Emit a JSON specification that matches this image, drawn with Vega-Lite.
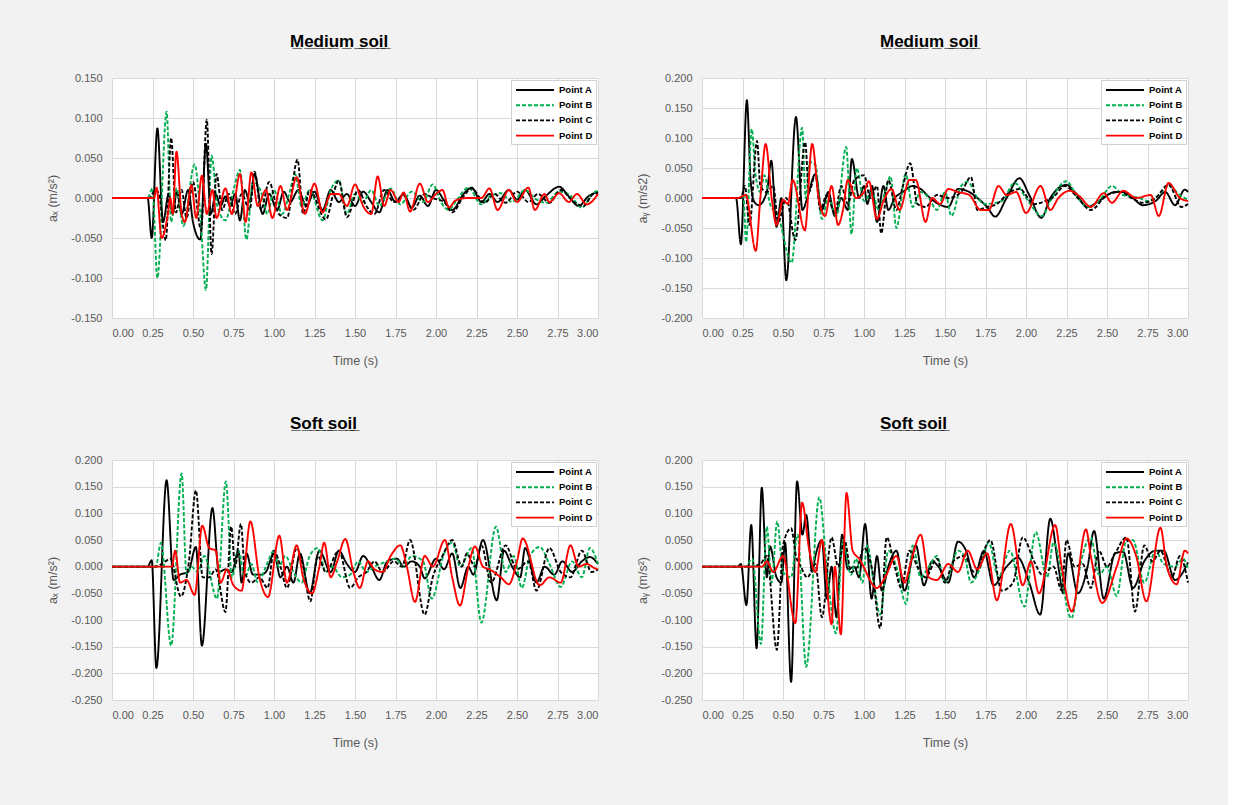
{
"$schema":"https://vega.github.io/schema/vega-lite/v6.json",
"background":"#f2f2f2",
"padding":{"left":46,"top":33,"right":36,"bottom":60},
"config":{
 "font":"Liberation Sans",
 "view":{"stroke":null,"fill":"white"},
 "axis":{"domain":false,"ticks":false,"gridColor":"#d9d9d9","gridWidth":1,"labelColor":"#595959","labelFontSize":11,"titleColor":"#595959","titleFontSize":12.5,"titleFontWeight":"normal"},
 "axisX":{"labelPadding":9,"titlePadding":16},
 "axisY":{"labelPadding":10,"titlePadding":11},
 "title":{"fontSize":17,"fontWeight":"bold","color":"#000000","anchor":"start","frame":"group","dx":178,"offset":21},
 "legend":{"orient":"top-right","offset":2,"title":null,"fillColor":"white","strokeColor":"#d0d0d0","padding":3,"symbolType":"M-0.5,0H5.8333","symbolSize":144,"symbolStrokeWidth":2,"symbolOffset":-2,"labelOffset":33,"labelFontSize":9.5,"labelFontWeight":"bold","labelColor":"#000000","rowPadding":3.2},
 "line":{"interpolate":"monotone","strokeWidth":1.9}
},
"datasets":{
"p1":[
{"s":"Point A","t":0,"v":0},{"s":"Point A","t":0.22,"v":0},{"s":"Point A","t":0.245,"v":-0.05},{"s":"Point A","t":0.28,"v":0.087},{"s":"Point A","t":0.315,"v":-0.03},{"s":"Point A","t":0.35,"v":0.005},{"s":"Point A","t":0.375,"v":-0.02},{"s":"Point A","t":0.4,"v":0.008},{"s":"Point A","t":0.43,"v":-0.02},{"s":"Point A","t":0.47,"v":0.01},{"s":"Point A","t":0.5,"v":-0.03},{"s":"Point A","t":0.545,"v":-0.052},{"s":"Point A","t":0.58,"v":0.068},{"s":"Point A","t":0.61,"v":-0.02},{"s":"Point A","t":0.64,"v":0.005},{"s":"Point A","t":0.67,"v":-0.01},{"s":"Point A","t":0.7,"v":0.002},{"s":"Point A","t":0.73,"v":-0.01},{"s":"Point A","t":0.76,"v":0.005},{"s":"Point A","t":0.79,"v":-0.028},{"s":"Point A","t":0.82,"v":0.01},{"s":"Point A","t":0.85,"v":-0.005},{"s":"Point A","t":0.88,"v":0.03},{"s":"Point A","t":0.93,"v":-0.02},{"s":"Point A","t":0.97,"v":0.005},{"s":"Point A","t":1.02,"v":-0.015},{"s":"Point A","t":1.06,"v":0.008},{"s":"Point A","t":1.1,"v":-0.005},{"s":"Point A","t":1.15,"v":0.01},{"s":"Point A","t":1.2,"v":-0.01},{"s":"Point A","t":1.25,"v":0.008},{"s":"Point A","t":1.3,"v":-0.015},{"s":"Point A","t":1.35,"v":0.01},{"s":"Point A","t":1.4,"v":-0.005},{"s":"Point A","t":1.45,"v":0.005},{"s":"Point A","t":1.5,"v":-0.01},{"s":"Point A","t":1.55,"v":0.008},{"s":"Point A","t":1.6,"v":-0.005},{"s":"Point A","t":1.65,"v":-0.018},{"s":"Point A","t":1.7,"v":0.01},{"s":"Point A","t":1.75,"v":-0.005},{"s":"Point A","t":1.8,"v":0.005},{"s":"Point A","t":1.85,"v":-0.012},{"s":"Point A","t":1.9,"v":0.003},{"s":"Point A","t":1.95,"v":-0.01},{"s":"Point A","t":2.0,"v":0.01},{"s":"Point A","t":2.05,"v":-0.003},{"s":"Point A","t":2.1,"v":-0.015},{"s":"Point A","t":2.17,"v":0.005},{"s":"Point A","t":2.22,"v":0.013},{"s":"Point A","t":2.28,"v":-0.005},{"s":"Point A","t":2.33,"v":0.005},{"s":"Point A","t":2.38,"v":-0.005},{"s":"Point A","t":2.45,"v":0.01},{"s":"Point A","t":2.5,"v":-0.002},{"s":"Point A","t":2.55,"v":0.01},{"s":"Point A","t":2.62,"v":-0.008},{"s":"Point A","t":2.68,"v":0.003},{"s":"Point A","t":2.76,"v":0.014},{"s":"Point A","t":2.82,"v":0.002},{"s":"Point A","t":2.88,"v":-0.01},{"s":"Point A","t":2.94,"v":0.002},{"s":"Point A","t":3.0,"v":0.008},
{"s":"Point B","t":0,"v":0},{"s":"Point B","t":0.22,"v":0},{"s":"Point B","t":0.25,"v":0.012},{"s":"Point B","t":0.28,"v":-0.1},{"s":"Point B","t":0.337,"v":0.108},{"s":"Point B","t":0.365,"v":-0.03},{"s":"Point B","t":0.4,"v":0.012},{"s":"Point B","t":0.44,"v":-0.035},{"s":"Point B","t":0.51,"v":0.042},{"s":"Point B","t":0.545,"v":-0.02},{"s":"Point B","t":0.58,"v":-0.115},{"s":"Point B","t":0.615,"v":0.053},{"s":"Point B","t":0.65,"v":-0.01},{"s":"Point B","t":0.7,"v":-0.028},{"s":"Point B","t":0.75,"v":0.01},{"s":"Point B","t":0.79,"v":0.035},{"s":"Point B","t":0.83,"v":-0.052},{"s":"Point B","t":0.87,"v":0.02},{"s":"Point B","t":0.92,"v":0.008},{"s":"Point B","t":0.96,"v":-0.02},{"s":"Point B","t":1.0,"v":0.01},{"s":"Point B","t":1.05,"v":-0.02},{"s":"Point B","t":1.1,"v":0.01},{"s":"Point B","t":1.13,"v":0.03},{"s":"Point B","t":1.17,"v":-0.01},{"s":"Point B","t":1.22,"v":0.01},{"s":"Point B","t":1.3,"v":-0.028},{"s":"Point B","t":1.35,"v":0.01},{"s":"Point B","t":1.4,"v":0.022},{"s":"Point B","t":1.45,"v":-0.02},{"s":"Point B","t":1.5,"v":0.005},{"s":"Point B","t":1.55,"v":-0.005},{"s":"Point B","t":1.6,"v":0.01},{"s":"Point B","t":1.65,"v":-0.01},{"s":"Point B","t":1.72,"v":0.012},{"s":"Point B","t":1.78,"v":-0.008},{"s":"Point B","t":1.85,"v":0.008},{"s":"Point B","t":1.92,"v":-0.005},{"s":"Point B","t":1.98,"v":0.017},{"s":"Point B","t":2.03,"v":-0.005},{"s":"Point B","t":2.08,"v":-0.015},{"s":"Point B","t":2.12,"v":-0.005},{"s":"Point B","t":2.2,"v":0.013},{"s":"Point B","t":2.28,"v":-0.008},{"s":"Point B","t":2.34,"v":0.003},{"s":"Point B","t":2.4,"v":0.006},{"s":"Point B","t":2.47,"v":-0.005},{"s":"Point B","t":2.55,"v":0.01},{"s":"Point B","t":2.62,"v":-0.002},{"s":"Point B","t":2.68,"v":-0.006},{"s":"Point B","t":2.76,"v":0.008},{"s":"Point B","t":2.83,"v":0.003},{"s":"Point B","t":2.9,"v":-0.012},{"s":"Point B","t":2.96,"v":0.004},{"s":"Point B","t":3.0,"v":0.01},
{"s":"Point C","t":0,"v":0},{"s":"Point C","t":0.23,"v":0},{"s":"Point C","t":0.27,"v":0.01},{"s":"Point C","t":0.29,"v":0.005},{"s":"Point C","t":0.332,"v":-0.053},{"s":"Point C","t":0.365,"v":0.075},{"s":"Point C","t":0.395,"v":-0.018},{"s":"Point C","t":0.43,"v":0.01},{"s":"Point C","t":0.46,"v":-0.025},{"s":"Point C","t":0.5,"v":0.02},{"s":"Point C","t":0.55,"v":-0.04},{"s":"Point C","t":0.585,"v":0.098},{"s":"Point C","t":0.615,"v":-0.07},{"s":"Point C","t":0.645,"v":0.03},{"s":"Point C","t":0.68,"v":-0.015},{"s":"Point C","t":0.72,"v":0.005},{"s":"Point C","t":0.76,"v":-0.02},{"s":"Point C","t":0.8,"v":0.005},{"s":"Point C","t":0.85,"v":-0.015},{"s":"Point C","t":0.88,"v":0.033},{"s":"Point C","t":0.92,"v":-0.015},{"s":"Point C","t":0.97,"v":0.02},{"s":"Point C","t":1.03,"v":-0.02},{"s":"Point C","t":1.08,"v":-0.025},{"s":"Point C","t":1.145,"v":0.048},{"s":"Point C","t":1.18,"v":-0.02},{"s":"Point C","t":1.22,"v":0.01},{"s":"Point C","t":1.32,"v":-0.027},{"s":"Point C","t":1.37,"v":0.008},{"s":"Point C","t":1.4,"v":0.022},{"s":"Point C","t":1.45,"v":-0.024},{"s":"Point C","t":1.52,"v":0.01},{"s":"Point C","t":1.57,"v":-0.01},{"s":"Point C","t":1.62,"v":-0.02},{"s":"Point C","t":1.68,"v":0.01},{"s":"Point C","t":1.74,"v":-0.005},{"s":"Point C","t":1.8,"v":0.003},{"s":"Point C","t":1.86,"v":-0.015},{"s":"Point C","t":1.93,"v":0.005},{"s":"Point C","t":1.98,"v":0.0},{"s":"Point C","t":2.05,"v":-0.005},{"s":"Point C","t":2.1,"v":-0.018},{"s":"Point C","t":2.17,"v":0.002},{"s":"Point C","t":2.22,"v":0.012},{"s":"Point C","t":2.3,"v":-0.006},{"s":"Point C","t":2.36,"v":0.005},{"s":"Point C","t":2.43,"v":-0.006},{"s":"Point C","t":2.5,"v":0.008},{"s":"Point C","t":2.57,"v":-0.005},{"s":"Point C","t":2.63,"v":0.005},{"s":"Point C","t":2.7,"v":-0.006},{"s":"Point C","t":2.77,"v":0.01},{"s":"Point C","t":2.85,"v":-0.005},{"s":"Point C","t":2.91,"v":-0.01},{"s":"Point C","t":2.97,"v":0.005},{"s":"Point C","t":3.0,"v":0.006},
{"s":"Point D","t":0,"v":0},{"s":"Point D","t":0.26,"v":0},{"s":"Point D","t":0.275,"v":0.013},{"s":"Point D","t":0.306,"v":-0.05},{"s":"Point D","t":0.345,"v":-0.02},{"s":"Point D","t":0.36,"v":0.0},{"s":"Point D","t":0.375,"v":-0.02},{"s":"Point D","t":0.398,"v":0.058},{"s":"Point D","t":0.43,"v":-0.02},{"s":"Point D","t":0.45,"v":-0.03},{"s":"Point D","t":0.49,"v":0.016},{"s":"Point D","t":0.52,"v":-0.025},{"s":"Point D","t":0.555,"v":0.028},{"s":"Point D","t":0.585,"v":-0.02},{"s":"Point D","t":0.62,"v":0.01},{"s":"Point D","t":0.645,"v":-0.025},{"s":"Point D","t":0.7,"v":0.012},{"s":"Point D","t":0.74,"v":-0.02},{"s":"Point D","t":0.79,"v":0.03},{"s":"Point D","t":0.825,"v":-0.03},{"s":"Point D","t":0.86,"v":0.032},{"s":"Point D","t":0.9,"v":-0.01},{"s":"Point D","t":0.95,"v":0.01},{"s":"Point D","t":0.99,"v":-0.025},{"s":"Point D","t":1.04,"v":0.015},{"s":"Point D","t":1.08,"v":-0.015},{"s":"Point D","t":1.14,"v":0.026},{"s":"Point D","t":1.19,"v":-0.02},{"s":"Point D","t":1.25,"v":0.018},{"s":"Point D","t":1.3,"v":-0.018},{"s":"Point D","t":1.35,"v":0.005},{"s":"Point D","t":1.4,"v":0.005},{"s":"Point D","t":1.45,"v":-0.01},{"s":"Point D","t":1.5,"v":0.017},{"s":"Point D","t":1.55,"v":-0.01},{"s":"Point D","t":1.6,"v":-0.02},{"s":"Point D","t":1.64,"v":0.027},{"s":"Point D","t":1.68,"v":-0.01},{"s":"Point D","t":1.72,"v":0.01},{"s":"Point D","t":1.77,"v":-0.005},{"s":"Point D","t":1.8,"v":0.007},{"s":"Point D","t":1.84,"v":-0.017},{"s":"Point D","t":1.9,"v":0.018},{"s":"Point D","t":1.95,"v":-0.005},{"s":"Point D","t":2.0,"v":0.005},{"s":"Point D","t":2.04,"v":0.01},{"s":"Point D","t":2.08,"v":-0.012},{"s":"Point D","t":2.12,"v":-0.003},{"s":"Point D","t":2.2,"v":0.0},{"s":"Point D","t":2.28,"v":0.0},{"s":"Point D","t":2.33,"v":0.012},{"s":"Point D","t":2.38,"v":-0.015},{"s":"Point D","t":2.45,"v":0.01},{"s":"Point D","t":2.5,"v":-0.005},{"s":"Point D","t":2.57,"v":0.013},{"s":"Point D","t":2.61,"v":-0.015},{"s":"Point D","t":2.67,"v":0.005},{"s":"Point D","t":2.7,"v":-0.005},{"s":"Point D","t":2.76,"v":0.006},{"s":"Point D","t":2.82,"v":-0.005},{"s":"Point D","t":2.87,"v":0.005},{"s":"Point D","t":2.93,"v":-0.008},{"s":"Point D","t":3.0,"v":0.005}
],
"p2":[
{"s":"Point A","t":0,"v":0},{"s":"Point A","t":0.21,"v":0},{"s":"Point A","t":0.24,"v":-0.077},{"s":"Point A","t":0.277,"v":0.163},{"s":"Point A","t":0.3,"v":0.03},{"s":"Point A","t":0.32,"v":-0.005},{"s":"Point A","t":0.35,"v":-0.012},{"s":"Point A","t":0.4,"v":0.01},{"s":"Point A","t":0.428,"v":0.062},{"s":"Point A","t":0.46,"v":-0.048},{"s":"Point A","t":0.49,"v":0.0},{"s":"Point A","t":0.52,"v":-0.137},{"s":"Point A","t":0.58,"v":0.135},{"s":"Point A","t":0.62,"v":-0.02},{"s":"Point A","t":0.65,"v":0.0},{"s":"Point A","t":0.7,"v":0.04},{"s":"Point A","t":0.74,"v":-0.02},{"s":"Point A","t":0.78,"v":0.01},{"s":"Point A","t":0.82,"v":-0.03},{"s":"Point A","t":0.86,"v":0.0},{"s":"Point A","t":0.9,"v":-0.02},{"s":"Point A","t":0.925,"v":0.065},{"s":"Point A","t":0.97,"v":0.0},{"s":"Point A","t":1.0,"v":0.02},{"s":"Point A","t":1.02,"v":-0.01},{"s":"Point A","t":1.05,"v":0.02},{"s":"Point A","t":1.08,"v":-0.04},{"s":"Point A","t":1.12,"v":0.02},{"s":"Point A","t":1.15,"v":-0.02},{"s":"Point A","t":1.19,"v":0.0},{"s":"Point A","t":1.24,"v":0.01},{"s":"Point A","t":1.3,"v":0.02},{"s":"Point A","t":1.35,"v":0.015},{"s":"Point A","t":1.4,"v":0.002},{"s":"Point A","t":1.46,"v":-0.01},{"s":"Point A","t":1.52,"v":-0.015},{"s":"Point A","t":1.58,"v":0.015},{"s":"Point A","t":1.65,"v":0.01},{"s":"Point A","t":1.7,"v":0.0},{"s":"Point A","t":1.76,"v":-0.015},{"s":"Point A","t":1.81,"v":-0.031},{"s":"Point A","t":1.88,"v":0.0},{"s":"Point A","t":1.96,"v":0.033},{"s":"Point A","t":2.02,"v":0.005},{"s":"Point A","t":2.095,"v":-0.033},{"s":"Point A","t":2.15,"v":0.0},{"s":"Point A","t":2.25,"v":0.022},{"s":"Point A","t":2.3,"v":0.01},{"s":"Point A","t":2.38,"v":-0.015},{"s":"Point A","t":2.45,"v":-0.005},{"s":"Point A","t":2.55,"v":0.01},{"s":"Point A","t":2.6,"v":0.01},{"s":"Point A","t":2.66,"v":0.0},{"s":"Point A","t":2.72,"v":-0.012},{"s":"Point A","t":2.8,"v":-0.005},{"s":"Point A","t":2.86,"v":0.01},{"s":"Point A","t":2.92,"v":-0.012},{"s":"Point A","t":2.98,"v":0.014},{"s":"Point A","t":3.0,"v":0.01},
{"s":"Point B","t":0,"v":0},{"s":"Point B","t":0.23,"v":0},{"s":"Point B","t":0.255,"v":0.005},{"s":"Point B","t":0.272,"v":-0.073},{"s":"Point B","t":0.307,"v":0.115},{"s":"Point B","t":0.33,"v":0.04},{"s":"Point B","t":0.36,"v":0.01},{"s":"Point B","t":0.385,"v":0.038},{"s":"Point B","t":0.42,"v":-0.01},{"s":"Point B","t":0.47,"v":-0.03},{"s":"Point B","t":0.553,"v":-0.108},{"s":"Point B","t":0.618,"v":0.117},{"s":"Point B","t":0.64,"v":0.0},{"s":"Point B","t":0.665,"v":0.06},{"s":"Point B","t":0.7,"v":0.055},{"s":"Point B","t":0.74,"v":-0.035},{"s":"Point B","t":0.78,"v":0.0},{"s":"Point B","t":0.83,"v":-0.03},{"s":"Point B","t":0.89,"v":0.085},{"s":"Point B","t":0.923,"v":-0.06},{"s":"Point B","t":0.955,"v":0.05},{"s":"Point B","t":1.0,"v":-0.005},{"s":"Point B","t":1.05,"v":0.01},{"s":"Point B","t":1.09,"v":-0.02},{"s":"Point B","t":1.13,"v":0.01},{"s":"Point B","t":1.164,"v":0.036},{"s":"Point B","t":1.2,"v":-0.05},{"s":"Point B","t":1.257,"v":0.04},{"s":"Point B","t":1.3,"v":-0.015},{"s":"Point B","t":1.35,"v":0.01},{"s":"Point B","t":1.4,"v":0.0},{"s":"Point B","t":1.45,"v":-0.02},{"s":"Point B","t":1.5,"v":0.01},{"s":"Point B","t":1.54,"v":-0.03},{"s":"Point B","t":1.6,"v":0.02},{"s":"Point B","t":1.64,"v":0.027},{"s":"Point B","t":1.7,"v":0.0},{"s":"Point B","t":1.75,"v":-0.01},{"s":"Point B","t":1.85,"v":-0.005},{"s":"Point B","t":1.93,"v":0.025},{"s":"Point B","t":2.0,"v":0.0},{"s":"Point B","t":2.1,"v":-0.03},{"s":"Point B","t":2.15,"v":-0.005},{"s":"Point B","t":2.25,"v":0.028},{"s":"Point B","t":2.32,"v":0.0},{"s":"Point B","t":2.38,"v":-0.015},{"s":"Point B","t":2.45,"v":-0.005},{"s":"Point B","t":2.53,"v":0.02},{"s":"Point B","t":2.6,"v":0.005},{"s":"Point B","t":2.7,"v":0.0},{"s":"Point B","t":2.75,"v":-0.005},{"s":"Point B","t":2.82,"v":0.005},{"s":"Point B","t":2.88,"v":0.02},{"s":"Point B","t":2.95,"v":0.005},{"s":"Point B","t":3.0,"v":-0.003},
{"s":"Point C","t":0,"v":0},{"s":"Point C","t":0.24,"v":0},{"s":"Point C","t":0.265,"v":0.02},{"s":"Point C","t":0.293,"v":-0.045},{"s":"Point C","t":0.34,"v":0.095},{"s":"Point C","t":0.36,"v":0.02},{"s":"Point C","t":0.4,"v":0.01},{"s":"Point C","t":0.44,"v":0.02},{"s":"Point C","t":0.47,"v":-0.04},{"s":"Point C","t":0.52,"v":0.0},{"s":"Point C","t":0.576,"v":-0.07},{"s":"Point C","t":0.637,"v":0.093},{"s":"Point C","t":0.66,"v":0.01},{"s":"Point C","t":0.7,"v":0.04},{"s":"Point C","t":0.73,"v":-0.02},{"s":"Point C","t":0.77,"v":0.005},{"s":"Point C","t":0.82,"v":-0.025},{"s":"Point C","t":0.86,"v":0.02},{"s":"Point C","t":0.9,"v":-0.01},{"s":"Point C","t":0.94,"v":0.03},{"s":"Point C","t":1.0,"v":0.038},{"s":"Point C","t":1.04,"v":0.0},{"s":"Point C","t":1.08,"v":0.02},{"s":"Point C","t":1.106,"v":-0.059},{"s":"Point C","t":1.15,"v":0.03},{"s":"Point C","t":1.2,"v":-0.02},{"s":"Point C","t":1.24,"v":0.02},{"s":"Point C","t":1.285,"v":0.058},{"s":"Point C","t":1.33,"v":-0.01},{"s":"Point C","t":1.38,"v":-0.015},{"s":"Point C","t":1.45,"v":0.005},{"s":"Point C","t":1.52,"v":0.0},{"s":"Point C","t":1.6,"v":0.01},{"s":"Point C","t":1.66,"v":0.035},{"s":"Point C","t":1.7,"v":-0.02},{"s":"Point C","t":1.76,"v":-0.015},{"s":"Point C","t":1.82,"v":-0.01},{"s":"Point C","t":1.9,"v":0.01},{"s":"Point C","t":1.96,"v":0.015},{"s":"Point C","t":2.05,"v":-0.01},{"s":"Point C","t":2.12,"v":-0.005},{"s":"Point C","t":2.17,"v":0.002},{"s":"Point C","t":2.24,"v":0.02},{"s":"Point C","t":2.32,"v":0.0},{"s":"Point C","t":2.4,"v":-0.02},{"s":"Point C","t":2.5,"v":0.005},{"s":"Point C","t":2.58,"v":0.01},{"s":"Point C","t":2.65,"v":0.0},{"s":"Point C","t":2.72,"v":-0.008},{"s":"Point C","t":2.8,"v":0.0},{"s":"Point C","t":2.88,"v":0.022},{"s":"Point C","t":2.96,"v":-0.015},{"s":"Point C","t":3.0,"v":-0.01},
{"s":"Point D","t":0,"v":0},{"s":"Point D","t":0.22,"v":0},{"s":"Point D","t":0.27,"v":0.005},{"s":"Point D","t":0.332,"v":-0.088},{"s":"Point D","t":0.36,"v":0.0},{"s":"Point D","t":0.393,"v":0.09},{"s":"Point D","t":0.43,"v":0.0},{"s":"Point D","t":0.46,"v":-0.045},{"s":"Point D","t":0.5,"v":-0.003},{"s":"Point D","t":0.53,"v":-0.01},{"s":"Point D","t":0.56,"v":0.03},{"s":"Point D","t":0.635,"v":-0.054},{"s":"Point D","t":0.68,"v":0.09},{"s":"Point D","t":0.72,"v":0.0},{"s":"Point D","t":0.76,"v":-0.03},{"s":"Point D","t":0.8,"v":0.02},{"s":"Point D","t":0.84,"v":-0.045},{"s":"Point D","t":0.87,"v":-0.02},{"s":"Point D","t":0.9,"v":0.03},{"s":"Point D","t":0.95,"v":0.0},{"s":"Point D","t":1.0,"v":0.01},{"s":"Point D","t":1.03,"v":0.028},{"s":"Point D","t":1.08,"v":-0.035},{"s":"Point D","t":1.12,"v":-0.005},{"s":"Point D","t":1.17,"v":0.015},{"s":"Point D","t":1.22,"v":-0.02},{"s":"Point D","t":1.28,"v":0.03},{"s":"Point D","t":1.32,"v":0.03},{"s":"Point D","t":1.38,"v":-0.04},{"s":"Point D","t":1.42,"v":0.0},{"s":"Point D","t":1.47,"v":-0.01},{"s":"Point D","t":1.52,"v":0.015},{"s":"Point D","t":1.58,"v":0.01},{"s":"Point D","t":1.65,"v":0.005},{"s":"Point D","t":1.72,"v":-0.02},{"s":"Point D","t":1.77,"v":-0.02},{"s":"Point D","t":1.83,"v":0.02},{"s":"Point D","t":1.88,"v":0.005},{"s":"Point D","t":1.94,"v":0.01},{"s":"Point D","t":2.0,"v":-0.025},{"s":"Point D","t":2.09,"v":0.02},{"s":"Point D","t":2.15,"v":-0.02},{"s":"Point D","t":2.2,"v":0.0},{"s":"Point D","t":2.27,"v":0.012},{"s":"Point D","t":2.33,"v":0.003},{"s":"Point D","t":2.4,"v":-0.015},{"s":"Point D","t":2.48,"v":0.008},{"s":"Point D","t":2.53,"v":-0.008},{"s":"Point D","t":2.6,"v":0.012},{"s":"Point D","t":2.68,"v":0.0},{"s":"Point D","t":2.77,"v":0.005},{"s":"Point D","t":2.82,"v":-0.03},{"s":"Point D","t":2.88,"v":0.025},{"s":"Point D","t":2.95,"v":0.0},{"s":"Point D","t":3.0,"v":-0.005}
],
"p3":[
{"s":"Point A","t":0,"v":0},{"s":"Point A","t":0.22,"v":0},{"s":"Point A","t":0.245,"v":0.012},{"s":"Point A","t":0.274,"v":-0.19},{"s":"Point A","t":0.337,"v":0.162},{"s":"Point A","t":0.38,"v":-0.025},{"s":"Point A","t":0.42,"v":-0.015},{"s":"Point A","t":0.47,"v":-0.01},{"s":"Point A","t":0.518,"v":0.037},{"s":"Point A","t":0.555,"v":-0.148},{"s":"Point A","t":0.62,"v":0.11},{"s":"Point A","t":0.66,"v":-0.01},{"s":"Point A","t":0.7,"v":-0.005},{"s":"Point A","t":0.74,"v":-0.01},{"s":"Point A","t":0.78,"v":0.03},{"s":"Point A","t":0.8,"v":-0.03},{"s":"Point A","t":0.83,"v":0.025},{"s":"Point A","t":0.87,"v":-0.015},{"s":"Point A","t":0.92,"v":-0.015},{"s":"Point A","t":0.95,"v":-0.01},{"s":"Point A","t":1.0,"v":0.025},{"s":"Point A","t":1.04,"v":-0.02},{"s":"Point A","t":1.08,"v":0.0},{"s":"Point A","t":1.12,"v":-0.03},{"s":"Point A","t":1.16,"v":0.025},{"s":"Point A","t":1.22,"v":-0.05},{"s":"Point A","t":1.28,"v":0.03},{"s":"Point A","t":1.35,"v":-0.01},{"s":"Point A","t":1.4,"v":0.03},{"s":"Point A","t":1.45,"v":0.005},{"s":"Point A","t":1.5,"v":-0.01},{"s":"Point A","t":1.55,"v":0.02},{"s":"Point A","t":1.6,"v":0.0},{"s":"Point A","t":1.65,"v":-0.025},{"s":"Point A","t":1.7,"v":0.01},{"s":"Point A","t":1.76,"v":0.015},{"s":"Point A","t":1.8,"v":0.0},{"s":"Point A","t":1.85,"v":0.01},{"s":"Point A","t":1.9,"v":0.0},{"s":"Point A","t":1.93,"v":-0.022},{"s":"Point A","t":2.0,"v":0.015},{"s":"Point A","t":2.05,"v":-0.005},{"s":"Point A","t":2.1,"v":0.025},{"s":"Point A","t":2.15,"v":-0.04},{"s":"Point A","t":2.2,"v":0.0},{"s":"Point A","t":2.23,"v":-0.015},{"s":"Point A","t":2.29,"v":0.05},{"s":"Point A","t":2.375,"v":-0.063},{"s":"Point A","t":2.42,"v":0.03},{"s":"Point A","t":2.47,"v":0.0},{"s":"Point A","t":2.52,"v":-0.02},{"s":"Point A","t":2.55,"v":0.035},{"s":"Point A","t":2.62,"v":-0.03},{"s":"Point A","t":2.67,"v":0.0},{"s":"Point A","t":2.73,"v":-0.015},{"s":"Point A","t":2.78,"v":0.01},{"s":"Point A","t":2.84,"v":-0.01},{"s":"Point A","t":2.9,"v":0.01},{"s":"Point A","t":2.95,"v":0.018},{"s":"Point A","t":3.0,"v":0.005},
{"s":"Point B","t":0,"v":0},{"s":"Point B","t":0.27,"v":0},{"s":"Point B","t":0.302,"v":0.045},{"s":"Point B","t":0.365,"v":-0.148},{"s":"Point B","t":0.43,"v":0.175},{"s":"Point B","t":0.46,"v":-0.015},{"s":"Point B","t":0.49,"v":0.0},{"s":"Point B","t":0.53,"v":-0.01},{"s":"Point B","t":0.57,"v":0.02},{"s":"Point B","t":0.648,"v":-0.06},{"s":"Point B","t":0.703,"v":0.16},{"s":"Point B","t":0.74,"v":-0.02},{"s":"Point B","t":0.78,"v":0.03},{"s":"Point B","t":0.82,"v":-0.02},{"s":"Point B","t":0.86,"v":0.005},{"s":"Point B","t":0.9,"v":-0.03},{"s":"Point B","t":0.95,"v":0.0},{"s":"Point B","t":1.0,"v":0.03},{"s":"Point B","t":1.03,"v":0.0},{"s":"Point B","t":1.07,"v":0.02},{"s":"Point B","t":1.12,"v":-0.01},{"s":"Point B","t":1.17,"v":-0.03},{"s":"Point B","t":1.22,"v":0.02},{"s":"Point B","t":1.27,"v":0.035},{"s":"Point B","t":1.32,"v":-0.01},{"s":"Point B","t":1.36,"v":0.0},{"s":"Point B","t":1.42,"v":-0.02},{"s":"Point B","t":1.47,"v":-0.015},{"s":"Point B","t":1.52,"v":0.01},{"s":"Point B","t":1.57,"v":-0.01},{"s":"Point B","t":1.62,"v":0.0},{"s":"Point B","t":1.7,"v":0.01},{"s":"Point B","t":1.75,"v":0.015},{"s":"Point B","t":1.8,"v":0.0},{"s":"Point B","t":1.85,"v":0.02},{"s":"Point B","t":1.92,"v":0.01},{"s":"Point B","t":1.974,"v":-0.06},{"s":"Point B","t":2.05,"v":0.025},{"s":"Point B","t":2.1,"v":0.045},{"s":"Point B","t":2.15,"v":0.0},{"s":"Point B","t":2.22,"v":0.035},{"s":"Point B","t":2.28,"v":-0.105},{"s":"Point B","t":2.37,"v":0.075},{"s":"Point B","t":2.43,"v":-0.01},{"s":"Point B","t":2.48,"v":0.02},{"s":"Point B","t":2.53,"v":-0.04},{"s":"Point B","t":2.58,"v":0.02},{"s":"Point B","t":2.64,"v":0.037},{"s":"Point B","t":2.7,"v":0.005},{"s":"Point B","t":2.77,"v":-0.038},{"s":"Point B","t":2.84,"v":0.01},{"s":"Point B","t":2.9,"v":-0.02},{"s":"Point B","t":2.95,"v":0.035},{"s":"Point B","t":3.0,"v":0.005},
{"s":"Point C","t":0,"v":0},{"s":"Point C","t":0.27,"v":0},{"s":"Point C","t":0.33,"v":0.01},{"s":"Point C","t":0.36,"v":0.015},{"s":"Point C","t":0.425,"v":-0.056},{"s":"Point C","t":0.475,"v":0.01},{"s":"Point C","t":0.518,"v":0.143},{"s":"Point C","t":0.56,"v":-0.02},{"s":"Point C","t":0.6,"v":-0.02},{"s":"Point C","t":0.64,"v":-0.005},{"s":"Point C","t":0.7,"v":-0.085},{"s":"Point C","t":0.736,"v":0.075},{"s":"Point C","t":0.76,"v":0.0},{"s":"Point C","t":0.796,"v":0.08},{"s":"Point C","t":0.82,"v":-0.01},{"s":"Point C","t":0.86,"v":-0.03},{"s":"Point C","t":0.91,"v":-0.02},{"s":"Point C","t":0.96,"v":-0.04},{"s":"Point C","t":1.0,"v":0.03},{"s":"Point C","t":1.04,"v":0.0},{"s":"Point C","t":1.08,"v":-0.04},{"s":"Point C","t":1.14,"v":0.035},{"s":"Point C","t":1.18,"v":0.0},{"s":"Point C","t":1.224,"v":-0.065},{"s":"Point C","t":1.27,"v":0.02},{"s":"Point C","t":1.32,"v":-0.01},{"s":"Point C","t":1.4,"v":0.03},{"s":"Point C","t":1.47,"v":-0.04},{"s":"Point C","t":1.52,"v":-0.02},{"s":"Point C","t":1.57,"v":-0.01},{"s":"Point C","t":1.62,"v":0.01},{"s":"Point C","t":1.67,"v":-0.01},{"s":"Point C","t":1.74,"v":0.01},{"s":"Point C","t":1.79,"v":0.0},{"s":"Point C","t":1.84,"v":0.05},{"s":"Point C","t":1.93,"v":-0.09},{"s":"Point C","t":1.98,"v":-0.02},{"s":"Point C","t":2.04,"v":0.02},{"s":"Point C","t":2.1,"v":0.05},{"s":"Point C","t":2.16,"v":0.0},{"s":"Point C","t":2.19,"v":0.025},{"s":"Point C","t":2.24,"v":0.0},{"s":"Point C","t":2.28,"v":0.04},{"s":"Point C","t":2.34,"v":-0.03},{"s":"Point C","t":2.43,"v":0.04},{"s":"Point C","t":2.5,"v":-0.005},{"s":"Point C","t":2.57,"v":0.01},{"s":"Point C","t":2.62,"v":-0.045},{"s":"Point C","t":2.7,"v":0.035},{"s":"Point C","t":2.77,"v":-0.01},{"s":"Point C","t":2.83,"v":-0.02},{"s":"Point C","t":2.9,"v":0.03},{"s":"Point C","t":2.96,"v":-0.01},{"s":"Point C","t":3.0,"v":-0.005},
{"s":"Point D","t":0,"v":0},{"s":"Point D","t":0.37,"v":0},{"s":"Point D","t":0.39,"v":0.03},{"s":"Point D","t":0.42,"v":-0.03},{"s":"Point D","t":0.46,"v":-0.025},{"s":"Point D","t":0.51,"v":-0.053},{"s":"Point D","t":0.557,"v":0.077},{"s":"Point D","t":0.6,"v":0.035},{"s":"Point D","t":0.64,"v":0.03},{"s":"Point D","t":0.67,"v":-0.03},{"s":"Point D","t":0.71,"v":-0.005},{"s":"Point D","t":0.75,"v":-0.035},{"s":"Point D","t":0.8,"v":-0.045},{"s":"Point D","t":0.854,"v":0.085},{"s":"Point D","t":0.91,"v":-0.02},{"s":"Point D","t":0.963,"v":-0.057},{"s":"Point D","t":1.033,"v":0.058},{"s":"Point D","t":1.08,"v":-0.03},{"s":"Point D","t":1.14,"v":0.04},{"s":"Point D","t":1.18,"v":-0.02},{"s":"Point D","t":1.235,"v":-0.05},{"s":"Point D","t":1.28,"v":0.0},{"s":"Point D","t":1.31,"v":0.045},{"s":"Point D","t":1.35,"v":-0.02},{"s":"Point D","t":1.39,"v":0.01},{"s":"Point D","t":1.44,"v":0.052},{"s":"Point D","t":1.49,"v":-0.01},{"s":"Point D","t":1.53,"v":-0.04},{"s":"Point D","t":1.58,"v":0.01},{"s":"Point D","t":1.62,"v":-0.005},{"s":"Point D","t":1.67,"v":-0.01},{"s":"Point D","t":1.72,"v":0.02},{"s":"Point D","t":1.78,"v":0.04},{"s":"Point D","t":1.82,"v":0.0},{"s":"Point D","t":1.87,"v":-0.066},{"s":"Point D","t":1.93,"v":0.02},{"s":"Point D","t":1.98,"v":0.0},{"s":"Point D","t":2.055,"v":0.05},{"s":"Point D","t":2.1,"v":-0.02},{"s":"Point D","t":2.148,"v":-0.073},{"s":"Point D","t":2.2,"v":0.0},{"s":"Point D","t":2.24,"v":0.038},{"s":"Point D","t":2.29,"v":0.0},{"s":"Point D","t":2.33,"v":-0.005},{"s":"Point D","t":2.4,"v":-0.02},{"s":"Point D","t":2.45,"v":-0.033},{"s":"Point D","t":2.5,"v":0.01},{"s":"Point D","t":2.535,"v":0.053},{"s":"Point D","t":2.64,"v":-0.035},{"s":"Point D","t":2.7,"v":-0.02},{"s":"Point D","t":2.77,"v":-0.03},{"s":"Point D","t":2.83,"v":0.04},{"s":"Point D","t":2.88,"v":0.0},{"s":"Point D","t":2.93,"v":0.005},{"s":"Point D","t":2.98,"v":-0.003},{"s":"Point D","t":3.0,"v":-0.005}
],
"p4":[
{"s":"Point A","t":0,"v":0},{"s":"Point A","t":0.22,"v":0},{"s":"Point A","t":0.24,"v":0.005},{"s":"Point A","t":0.274,"v":-0.072},{"s":"Point A","t":0.304,"v":0.078},{"s":"Point A","t":0.337,"v":-0.153},{"s":"Point A","t":0.369,"v":0.148},{"s":"Point A","t":0.4,"v":-0.02},{"s":"Point A","t":0.42,"v":0.038},{"s":"Point A","t":0.46,"v":-0.02},{"s":"Point A","t":0.49,"v":-0.03},{"s":"Point A","t":0.513,"v":0.045},{"s":"Point A","t":0.55,"v":-0.216},{"s":"Point A","t":0.587,"v":0.16},{"s":"Point A","t":0.62,"v":0.06},{"s":"Point A","t":0.643,"v":0.097},{"s":"Point A","t":0.68,"v":-0.01},{"s":"Point A","t":0.7,"v":0.02},{"s":"Point A","t":0.74,"v":0.05},{"s":"Point A","t":0.77,"v":-0.06},{"s":"Point A","t":0.8,"v":0.0},{"s":"Point A","t":0.83,"v":-0.095},{"s":"Point A","t":0.865,"v":0.06},{"s":"Point A","t":0.9,"v":-0.005},{"s":"Point A","t":0.94,"v":0.0},{"s":"Point A","t":0.97,"v":-0.02},{"s":"Point A","t":1.007,"v":0.08},{"s":"Point A","t":1.047,"v":-0.06},{"s":"Point A","t":1.08,"v":0.02},{"s":"Point A","t":1.11,"v":-0.045},{"s":"Point A","t":1.15,"v":0.0},{"s":"Point A","t":1.2,"v":0.03},{"s":"Point A","t":1.25,"v":-0.045},{"s":"Point A","t":1.32,"v":0.04},{"s":"Point A","t":1.37,"v":-0.035},{"s":"Point A","t":1.42,"v":0.01},{"s":"Point A","t":1.46,"v":0.0},{"s":"Point A","t":1.52,"v":-0.03},{"s":"Point A","t":1.58,"v":0.047},{"s":"Point A","t":1.63,"v":0.03},{"s":"Point A","t":1.68,"v":-0.02},{"s":"Point A","t":1.74,"v":0.03},{"s":"Point A","t":1.8,"v":-0.035},{"s":"Point A","t":1.88,"v":0.0},{"s":"Point A","t":1.95,"v":0.017},{"s":"Point A","t":2.02,"v":-0.03},{"s":"Point A","t":2.088,"v":-0.09},{"s":"Point A","t":2.15,"v":0.09},{"s":"Point A","t":2.2,"v":0.0},{"s":"Point A","t":2.23,"v":-0.05},{"s":"Point A","t":2.26,"v":0.025},{"s":"Point A","t":2.32,"v":-0.05},{"s":"Point A","t":2.38,"v":0.0},{"s":"Point A","t":2.42,"v":0.067},{"s":"Point A","t":2.48,"v":-0.06},{"s":"Point A","t":2.55,"v":0.025},{"s":"Point A","t":2.6,"v":0.028},{"s":"Point A","t":2.66,"v":-0.04},{"s":"Point A","t":2.73,"v":0.01},{"s":"Point A","t":2.8,"v":0.03},{"s":"Point A","t":2.85,"v":0.03},{"s":"Point A","t":2.92,"v":-0.025},{"s":"Point A","t":3.0,"v":0.008},
{"s":"Point B","t":0,"v":0},{"s":"Point B","t":0.27,"v":0},{"s":"Point B","t":0.31,"v":0.015},{"s":"Point B","t":0.364,"v":-0.145},{"s":"Point B","t":0.4,"v":0.075},{"s":"Point B","t":0.43,"v":-0.03},{"s":"Point B","t":0.464,"v":0.085},{"s":"Point B","t":0.5,"v":-0.01},{"s":"Point B","t":0.55,"v":-0.02},{"s":"Point B","t":0.59,"v":0.06},{"s":"Point B","t":0.643,"v":-0.188},{"s":"Point B","t":0.724,"v":0.13},{"s":"Point B","t":0.77,"v":0.0},{"s":"Point B","t":0.827,"v":-0.125},{"s":"Point B","t":0.87,"v":0.05},{"s":"Point B","t":0.92,"v":-0.015},{"s":"Point B","t":0.95,"v":0.015},{"s":"Point B","t":0.99,"v":-0.03},{"s":"Point B","t":1.02,"v":0.04},{"s":"Point B","t":1.06,"v":-0.03},{"s":"Point B","t":1.1,"v":-0.09},{"s":"Point B","t":1.15,"v":0.03},{"s":"Point B","t":1.2,"v":0.0},{"s":"Point B","t":1.26,"v":-0.07},{"s":"Point B","t":1.3,"v":0.04},{"s":"Point B","t":1.35,"v":-0.02},{"s":"Point B","t":1.4,"v":0.0},{"s":"Point B","t":1.45,"v":0.02},{"s":"Point B","t":1.5,"v":-0.03},{"s":"Point B","t":1.58,"v":0.03},{"s":"Point B","t":1.62,"v":0.02},{"s":"Point B","t":1.66,"v":-0.03},{"s":"Point B","t":1.72,"v":0.0},{"s":"Point B","t":1.77,"v":0.045},{"s":"Point B","t":1.83,"v":-0.02},{"s":"Point B","t":1.9,"v":0.03},{"s":"Point B","t":1.99,"v":-0.075},{"s":"Point B","t":2.06,"v":0.065},{"s":"Point B","t":2.13,"v":-0.02},{"s":"Point B","t":2.17,"v":0.045},{"s":"Point B","t":2.28,"v":-0.097},{"s":"Point B","t":2.34,"v":0.01},{"s":"Point B","t":2.4,"v":0.055},{"s":"Point B","t":2.45,"v":-0.015},{"s":"Point B","t":2.5,"v":0.0},{"s":"Point B","t":2.56,"v":-0.055},{"s":"Point B","t":2.62,"v":0.05},{"s":"Point B","t":2.66,"v":0.05},{"s":"Point B","t":2.73,"v":-0.03},{"s":"Point B","t":2.8,"v":0.03},{"s":"Point B","t":2.85,"v":0.005},{"s":"Point B","t":2.92,"v":0.0},{"s":"Point B","t":2.97,"v":0.015},{"s":"Point B","t":3.0,"v":-0.005},
{"s":"Point C","t":0,"v":0},{"s":"Point C","t":0.3,"v":0},{"s":"Point C","t":0.36,"v":0.005},{"s":"Point C","t":0.4,"v":0.02},{"s":"Point C","t":0.462,"v":-0.156},{"s":"Point C","t":0.5,"v":0.04},{"s":"Point C","t":0.55,"v":0.072},{"s":"Point C","t":0.58,"v":0.02},{"s":"Point C","t":0.61,"v":0.0},{"s":"Point C","t":0.65,"v":-0.02},{"s":"Point C","t":0.7,"v":0.005},{"s":"Point C","t":0.74,"v":-0.095},{"s":"Point C","t":0.8,"v":0.055},{"s":"Point C","t":0.84,"v":0.0},{"s":"Point C","t":0.88,"v":0.05},{"s":"Point C","t":0.92,"v":-0.01},{"s":"Point C","t":0.96,"v":0.0},{"s":"Point C","t":1.0,"v":0.035},{"s":"Point C","t":1.05,"v":-0.005},{"s":"Point C","t":1.1,"v":-0.115},{"s":"Point C","t":1.14,"v":0.055},{"s":"Point C","t":1.19,"v":0.0},{"s":"Point C","t":1.23,"v":-0.04},{"s":"Point C","t":1.28,"v":0.03},{"s":"Point C","t":1.33,"v":0.0},{"s":"Point C","t":1.38,"v":-0.02},{"s":"Point C","t":1.45,"v":0.015},{"s":"Point C","t":1.5,"v":-0.03},{"s":"Point C","t":1.55,"v":0.01},{"s":"Point C","t":1.62,"v":0.02},{"s":"Point C","t":1.68,"v":-0.01},{"s":"Point C","t":1.78,"v":0.05},{"s":"Point C","t":1.85,"v":-0.045},{"s":"Point C","t":1.92,"v":-0.03},{"s":"Point C","t":1.98,"v":0.055},{"s":"Point C","t":2.05,"v":0.01},{"s":"Point C","t":2.1,"v":-0.015},{"s":"Point C","t":2.17,"v":0.0},{"s":"Point C","t":2.22,"v":-0.045},{"s":"Point C","t":2.25,"v":0.05},{"s":"Point C","t":2.3,"v":0.0},{"s":"Point C","t":2.35,"v":0.005},{"s":"Point C","t":2.4,"v":-0.04},{"s":"Point C","t":2.45,"v":0.03},{"s":"Point C","t":2.5,"v":0.0},{"s":"Point C","t":2.55,"v":0.025},{"s":"Point C","t":2.62,"v":0.055},{"s":"Point C","t":2.673,"v":-0.084},{"s":"Point C","t":2.73,"v":0.04},{"s":"Point C","t":2.78,"v":0.01},{"s":"Point C","t":2.83,"v":0.03},{"s":"Point C","t":2.9,"v":-0.02},{"s":"Point C","t":2.95,"v":0.02},{"s":"Point C","t":3.0,"v":-0.03},
{"s":"Point D","t":0,"v":0},{"s":"Point D","t":0.37,"v":0},{"s":"Point D","t":0.4,"v":0.01},{"s":"Point D","t":0.44,"v":-0.01},{"s":"Point D","t":0.5,"v":0.02},{"s":"Point D","t":0.576,"v":-0.106},{"s":"Point D","t":0.618,"v":0.12},{"s":"Point D","t":0.66,"v":0.035},{"s":"Point D","t":0.7,"v":-0.01},{"s":"Point D","t":0.74,"v":0.05},{"s":"Point D","t":0.8,"v":-0.108},{"s":"Point D","t":0.82,"v":0.0},{"s":"Point D","t":0.857,"v":-0.127},{"s":"Point D","t":0.892,"v":0.138},{"s":"Point D","t":0.93,"v":0.03},{"s":"Point D","t":0.97,"v":0.015},{"s":"Point D","t":1.08,"v":-0.04},{"s":"Point D","t":1.13,"v":-0.02},{"s":"Point D","t":1.2,"v":0.02},{"s":"Point D","t":1.25,"v":-0.03},{"s":"Point D","t":1.29,"v":0.01},{"s":"Point D","t":1.35,"v":0.06},{"s":"Point D","t":1.4,"v":-0.02},{"s":"Point D","t":1.45,"v":-0.025},{"s":"Point D","t":1.52,"v":0.005},{"s":"Point D","t":1.58,"v":-0.01},{"s":"Point D","t":1.64,"v":0.03},{"s":"Point D","t":1.7,"v":-0.005},{"s":"Point D","t":1.76,"v":0.025},{"s":"Point D","t":1.82,"v":-0.063},{"s":"Point D","t":1.906,"v":0.08},{"s":"Point D","t":1.98,"v":-0.035},{"s":"Point D","t":2.03,"v":0.01},{"s":"Point D","t":2.08,"v":-0.05},{"s":"Point D","t":2.18,"v":0.078},{"s":"Point D","t":2.22,"v":0.0},{"s":"Point D","t":2.283,"v":-0.084},{"s":"Point D","t":2.37,"v":0.07},{"s":"Point D","t":2.4,"v":0.02},{"s":"Point D","t":2.47,"v":-0.068},{"s":"Point D","t":2.56,"v":0.0},{"s":"Point D","t":2.62,"v":0.053},{"s":"Point D","t":2.68,"v":0.02},{"s":"Point D","t":2.743,"v":-0.065},{"s":"Point D","t":2.83,"v":0.073},{"s":"Point D","t":2.87,"v":0.0},{"s":"Point D","t":2.93,"v":-0.033},{"s":"Point D","t":2.98,"v":0.03},{"s":"Point D","t":3.0,"v":0.025}
]
},
"columns":2,
"spacing":{"row":142,"column":104},
"bounds":"flush",
"concat":[
{"width":486,"height":240,"title":{"text":"M\u0332e\u0332d\u0332i\u0332u\u0332m\u0332 \u0332s\u0332o\u0332i\u0332l\u0332"},"data":{"name":"p1"},"mark":{"type":"line"},
 "encoding":{
  "x":{"field":"t","type":"quantitative","scale":{"domain":[0,3],"nice":false},"axis":{"values":[0,0.25,0.5,0.75,1,1.25,1.5,1.75,2,2.25,2.5,2.75,3],"format":".2f","title":"Time (s)"}},
  "y":{"field":"v","type":"quantitative","scale":{"domain":[-0.15,0.15],"nice":false,"zero":false},"axis":{"values":[-0.15,-0.1,-0.05,0,0.05,0.1,0.15],"format":".3f","labelExpr":"replace(datum.label,'\u2212','-')","title":"a\u2093 (m/s\u00b2)"}},
  "color":{"field":"s","type":"nominal","scale":{"domain":["Point A","Point B","Point C","Point D"],"range":["#000000","#00b050","#000000","#ff0000"]}},
  "strokeDash":{"field":"s","type":"nominal","scale":{"domain":["Point A","Point B","Point C","Point D"],"range":[[1,0],[4,2],[4,2],[1,0]]}}
 }},
{"width":486,"height":240,"title":{"text":"M\u0332e\u0332d\u0332i\u0332u\u0332m\u0332 \u0332s\u0332o\u0332i\u0332l\u0332"},"data":{"name":"p2"},"mark":{"type":"line"},
 "encoding":{
  "x":{"field":"t","type":"quantitative","scale":{"domain":[0,3],"nice":false},"axis":{"values":[0,0.25,0.5,0.75,1,1.25,1.5,1.75,2,2.25,2.5,2.75,3],"format":".2f","title":"Time (s)"}},
  "y":{"field":"v","type":"quantitative","scale":{"domain":[-0.2,0.2],"nice":false,"zero":false},"axis":{"values":[-0.2,-0.15,-0.1,-0.05,0,0.05,0.1,0.15,0.2],"format":".3f","labelExpr":"replace(datum.label,'\u2212','-')","title":"a\u1d67 (m/s2)"}},
  "color":{"field":"s","type":"nominal","scale":{"domain":["Point A","Point B","Point C","Point D"],"range":["#000000","#00b050","#000000","#ff0000"]}},
  "strokeDash":{"field":"s","type":"nominal","scale":{"domain":["Point A","Point B","Point C","Point D"],"range":[[1,0],[4,2],[4,2],[1,0]]}}
 }},
{"width":486,"height":240,"title":{"text":"S\u0332o\u0332f\u0332t\u0332 \u0332s\u0332o\u0332i\u0332l\u0332"},"data":{"name":"p3"},"mark":{"type":"line"},
 "encoding":{
  "x":{"field":"t","type":"quantitative","scale":{"domain":[0,3],"nice":false},"axis":{"values":[0,0.25,0.5,0.75,1,1.25,1.5,1.75,2,2.25,2.5,2.75,3],"format":".2f","title":"Time (s)"}},
  "y":{"field":"v","type":"quantitative","scale":{"domain":[-0.25,0.2],"nice":false,"zero":false},"axis":{"values":[-0.25,-0.2,-0.15,-0.1,-0.05,0,0.05,0.1,0.15,0.2],"format":".3f","labelExpr":"replace(datum.label,'\u2212','-')","title":"a\u2093 (m/s\u00b2)"}},
  "color":{"field":"s","type":"nominal","scale":{"domain":["Point A","Point B","Point C","Point D"],"range":["#000000","#00b050","#000000","#ff0000"]}},
  "strokeDash":{"field":"s","type":"nominal","scale":{"domain":["Point A","Point B","Point C","Point D"],"range":[[1,0],[4,2],[4,2],[1,0]]}}
 }},
{"width":486,"height":240,"title":{"text":"S\u0332o\u0332f\u0332t\u0332 \u0332s\u0332o\u0332i\u0332l\u0332"},"data":{"name":"p4"},"mark":{"type":"line"},
 "encoding":{
  "x":{"field":"t","type":"quantitative","scale":{"domain":[0,3],"nice":false},"axis":{"values":[0,0.25,0.5,0.75,1,1.25,1.5,1.75,2,2.25,2.5,2.75,3],"format":".2f","title":"Time (s)"}},
  "y":{"field":"v","type":"quantitative","scale":{"domain":[-0.25,0.2],"nice":false,"zero":false},"axis":{"values":[-0.25,-0.2,-0.15,-0.1,-0.05,0,0.05,0.1,0.15,0.2],"format":".3f","labelExpr":"replace(datum.label,'\u2212','-')","title":"a\u1d67 (m/s\u00b2)"}},
  "color":{"field":"s","type":"nominal","scale":{"domain":["Point A","Point B","Point C","Point D"],"range":["#000000","#00b050","#000000","#ff0000"]}},
  "strokeDash":{"field":"s","type":"nominal","scale":{"domain":["Point A","Point B","Point C","Point D"],"range":[[1,0],[4,2],[4,2],[1,0]]}}
 }}
],
"resolve":{"scale":{"color":"independent","strokeDash":"independent"},"legend":{"color":"independent","strokeDash":"independent"}}
}
